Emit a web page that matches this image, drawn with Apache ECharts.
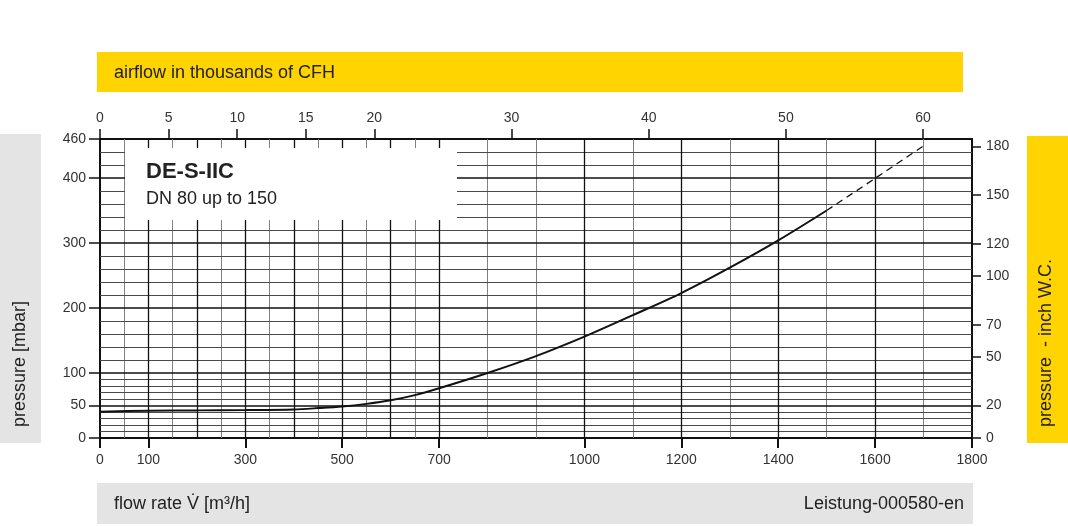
<!DOCTYPE html>
<html>
<head>
<meta charset="utf-8">
<script src="https://cdn.jsdelivr.net/npm/echarts@6/dist/echarts.min.js"></script>
<style>
  html,body{margin:0;padding:0;background:#fff;}
  #chart{width:1068px;height:526px;}
</style>
</head>
<body>
<div id="chart"></div>
<script>
// flow rate in m3/h vs pressure in mbar
var flowSolid = [0, 100, 200, 300, 400, 450, 500, 550, 600, 650, 700, 800, 900, 1000, 1100, 1200, 1300, 1400, 1500];
var pressSolid = [40.5, 42, 42.5, 43, 44, 46, 48.5, 52.5, 58, 66, 76.5, 100, 126, 156, 189, 223, 262, 304, 350];
// extrapolated part (dashed)
var flowDashed = [1500, 1600, 1705];
var pressDashed = [350, 399.5, 452];

// tick labels
var flowTicks = [0, 100, 300, 500, 700, 1000, 1200, 1400, 1600, 1800];
var cfhTicks = [0, 5, 10, 15, 20, 30, 40, 50, 60];
var mbarTicks = [0, 50, 100, 200, 300, 400, 460];
var inchTicks = [0, 20, 50, 70, 100, 120, 150, 180];

// grid lines
var xGridMajor = [100, 200, 300, 400, 500, 600, 700, 1000, 1200, 1400, 1600];
var xGridMinor = [50, 150, 250, 350, 450, 550, 650, 800, 900, 1100, 1300, 1500, 1700];
var yGridMajor = [50, 100, 200, 300, 400];
var yGridMinor = [10, 20, 30, 40, 60, 70, 80, 90, 120, 140, 160, 180, 220, 240, 260, 280, 320, 340, 360, 380, 420, 440];

var FLOW_MAX = 1800, MBAR_MAX = 460;
var M3H_PER_KCFH = 28.3168;   // 1000 CFH in m3/h
var MBAR_PER_INWC = 2.49089;  // 1 inch W.C. in mbar

var FONT = 'Liberation Sans, Arial, sans-serif';
var YELLOW = '#ffd400', GREY = '#e4e4e4';

function pairs(xs, ys){
    var out = [];
    for (var i = 0; i < xs.length; i++) out.push([xs[i], ys[i]]);
    return out;
}
function vLines(vals){
    return vals.map(function(v){ return {xAxis: v}; });
}
function hLines(vals){
    return vals.map(function(v){ return {yAxis: v}; });
}
function gridSeries(data, color, width){
    return {
        type: 'line', data: [], silent: true, z: 2,
        markLine: {
            silent: true, symbol: ['none', 'none'], animation: false,
            label: {show: false},
            lineStyle: {color: color, width: width, type: 'solid'},
            data: data
        }
    };
}
function plain(v){ return String(v); }

var myChart = echarts.init(document.getElementById('chart'));

var tickLbl = {color: '#333', fontSize: 14, fontFamily: FONT, formatter: plain};
var axLine = {onZero: false, lineStyle: {color: '#111', width: 2}};

var option = {
    animation: false,
    grid: {left: 100, right: 96, top: 139, bottom: 88},
    xAxis: [{
        type: 'value', position: 'bottom', min: 0, max: FLOW_MAX, interval: 100,
        axisLine: axLine,
        axisTick: {length: 10, lineStyle: {color: '#111', width: 2}, customValues: flowTicks},
        axisLabel: Object.assign({margin: 15, customValues: flowTicks}, tickLbl),
        splitLine: {show: false}
    }, {
        type: 'value', position: 'top', min: 0, max: FLOW_MAX / M3H_PER_KCFH, interval: 5,
        axisLine: axLine,
        axisTick: {length: 10, lineStyle: {color: '#111', width: 1.5}, customValues: cfhTicks},
        axisLabel: Object.assign({margin: 14, customValues: cfhTicks}, tickLbl),
        splitLine: {show: false}
    }],
    yAxis: [{
        type: 'value', position: 'left', min: 0, max: MBAR_MAX, interval: 50,
        axisLine: Object.assign({show: true}, axLine),
        axisTick: {show: true, length: 11, lineStyle: {color: '#111', width: 1.5}, customValues: mbarTicks},
        axisLabel: Object.assign({margin: 14, customValues: mbarTicks}, tickLbl),
        splitLine: {show: false}
    }, {
        type: 'value', position: 'right', min: 0, max: MBAR_MAX / MBAR_PER_INWC, interval: 10,
        axisLine: Object.assign({show: true}, axLine),
        axisTick: {show: true, length: 9, lineStyle: {color: '#111', width: 1.5}, customValues: inchTicks},
        axisLabel: Object.assign({margin: 14, customValues: inchTicks}, tickLbl),
        splitLine: {show: false}
    }],
    graphic: [
        {type: 'rect', shape: {x: 97, y: 52, width: 866, height: 40}, style: {fill: YELLOW}},
        {type: 'text', x: 114, y: 73, style: {text: 'airflow in thousands of CFH', fill: '#222', font: '18px ' + FONT, textVerticalAlign: 'middle'}},
        {type: 'rect', shape: {x: 97, y: 483, width: 876, height: 41}, style: {fill: GREY}},
        {type: 'text', x: 114, y: 504, style: {text: 'flow rate V\u0307 [m\u00b3/h]', fill: '#222', font: '18px ' + FONT, textVerticalAlign: 'middle'}},
        {type: 'text', x: 964, y: 504, style: {text: 'Leistung-000580-en', fill: '#222', font: '18px ' + FONT, textAlign: 'right', textVerticalAlign: 'middle'}},
        {type: 'rect', shape: {x: 0, y: 134, width: 41, height: 309}, style: {fill: GREY}},
        {type: 'text', x: 20, y: 427, rotation: Math.PI / 2, style: {text: 'pressure [mbar]', fill: '#222', font: '18px ' + FONT, textAlign: 'left', textVerticalAlign: 'middle'}},
        {type: 'rect', shape: {x: 1027, y: 136, width: 41, height: 307}, style: {fill: YELLOW}},
        {type: 'text', x: 1046, y: 427, rotation: Math.PI / 2, style: {text: 'pressure  - inch W.C.', fill: '#222', font: '18px ' + FONT, textAlign: 'left', textVerticalAlign: 'middle'}},
        // white label box over the grid
        {type: 'rect', z: 50, shape: {x: 125, y: 148, width: 332, height: 72}, style: {fill: '#fff'}},
        {type: 'text', z: 51, x: 146, y: 172, style: {text: 'DE-S-IIC', fill: '#222', font: 'bold 22px ' + FONT, textVerticalAlign: 'middle'}},
        {type: 'text', z: 51, x: 146, y: 199, style: {text: 'DN 80 up to 150', fill: '#222', font: '18px ' + FONT, textVerticalAlign: 'middle'}}
    ],
    series: [
        gridSeries(vLines(xGridMinor), '#808080', 1),
        gridSeries(hLines(yGridMinor), '#4a4a4a', 1),
        gridSeries(vLines(xGridMajor), '#111', 1.3),
        gridSeries(hLines(yGridMajor), '#111', 1.6),
        {
            type: 'line', z: 60, data: pairs(flowSolid, pressSolid), smooth: 0.3,
            showSymbol: false, silent: true,
            lineStyle: {color: '#111', width: 2}
        },
        {
            type: 'line', z: 60, data: pairs(flowDashed, pressDashed), smooth: 0.3,
            showSymbol: false, silent: true,
            lineStyle: {color: '#111', width: 1.3, type: [7, 5]}
        }
    ]
};
myChart.setOption(option);
</script>
</body>
</html>
